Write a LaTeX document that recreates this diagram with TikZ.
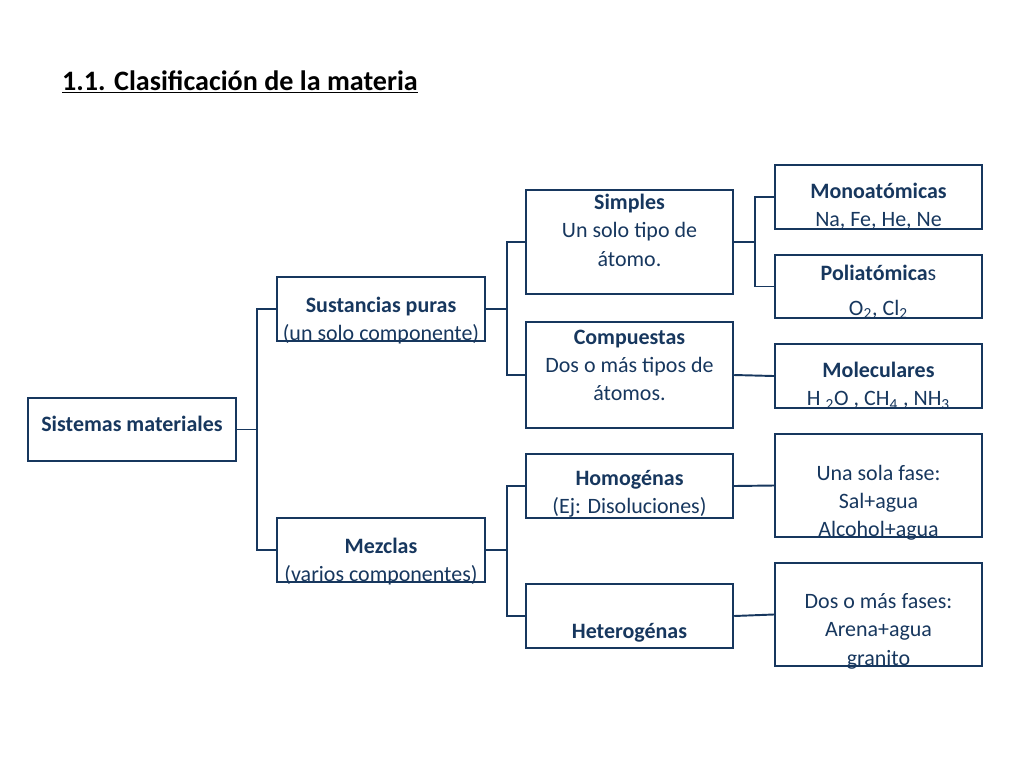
\documentclass[tikz,border=0pt]{standalone}
\usepackage{fontspec}
\setmainfont{Carlito}
\usetikzlibrary{positioning,fit}
\definecolor{navy}{HTML}{17375E}

\begin{document}
\begin{tikzpicture}[x=0.02cm, y=-0.02cm,
        box/.style = {rectangle, draw = navy, line width = 1.4pt, inner sep = 0pt},
        txt/.style = {anchor = north, align = center, text = navy, inner sep = 0pt,
                      font = \fontsize{12.5}{16}\selectfont},
        link/.style = {draw = navy, line width = 1.1pt}]
        \useasboundingbox (0,0) rectangle (1024,768);

        \node[anchor = base west, text = black, font = \fontsize{16}{18}\selectfont\bfseries] (title) at (56,90) {\underline{1.1. Clasificación de la materia}};

        % boxes
        \node[box, fit = {(28,398) (236,461)}] (sis) {};
        \node[box, fit = {(277,277) (485,341)}] (sus) {};
        \node[box, fit = {(277,518) (485,582)}] (mez) {};
        \node[box, fit = {(526,190) (733,294)}] (sim) {};
        \node[box, fit = {(526,322) (733,428)}] (com) {};
        \node[box, fit = {(526,454) (733,518)}] (hom) {};
        \node[box, fit = {(526,584) (733,648)}] (het) {};
        \node[box, fit = {(775,165) (982,229)}] (mono) {};
        \node[box, fit = {(775,255) (982,318)}] (poli) {};
        \node[box, fit = {(775,344) (982,408)}] (mol) {};
        \node[box, fit = {(775,434) (982,537)}] (una) {};
        \node[box, fit = {(775,563) (982,666)}] (dos) {};

        % texts
        \node[txt] (sisT) at ([yshift = -11] sis.north) {\textbf{Sistemas materiales}};
        \node[txt] (susT) at ([yshift = -12] sus.north) {\textbf{Sustancias puras}\\(un solo componente)};
        \node[txt] (mezT) at ([yshift = -12] mez.north) {\textbf{Mezclas}\\(varios componentes)};
        \node[txt] (simT) at ([yshift = -3] sim.north) {\textbf{Simples}\\Un solo tipo de\\átomo.};
        \node[txt] (comT) at ([yshift = -5] com.north) {\textbf{Compuestas}\\Dos o más tipos de\\átomos.};
        \node[txt] (homT) at ([yshift = -10] hom.north) {\textbf{Homogénas}\\(Ej: Disoluciones)};
        \node[txt] (hetT) at ([yshift = -23] het.north) {\textbf{Heterogénas}};
        \node[txt] (monoT) at ([yshift = -11] mono.north) {\textbf{Monoatómicas}\\Na, Fe, He, Ne};
        \node[txt] (poliT) at ([yshift = -6] poli.north) {\textbf{Poliatómica}s\\[4pt]O\textsubscript{2}, Cl\textsubscript{2}};
        \node[txt] (molT) at ([yshift = -11] mol.north) {\textbf{Moleculares}\\H \textsubscript{2}O , CH\textsubscript{4} , NH\textsubscript{3}};
        \node[txt] (unaT) at ([yshift = -18] una.north) {Una sola fase:\\Sal+agua\\Alcohol+agua};
        \node[txt] (dosT) at ([yshift = -18] dos.north) {Dos o más fases:\\Arena+agua\\granito};

        % brackets
        \draw[link] (sis.east) -- ++(20,0) |- (sus.west);
        \draw[link] (sis.east) -- ++(20,0) |- (mez.west);
        \draw[link] (sus.east) -- ++(21,0) |- (sim.west);
        \draw[link] (sus.east) -- ++(21,0) |- (com.west);
        \draw[link] (mez.east) -- ++(21,0) |- (hom.west);
        \draw[link] (mez.east) -- ++(21,0) |- (het.west);
        \draw[link] (sim.east) -- ++(21,0) |- (mono.west);
        \draw[link] (sim.east) -- ++(21,0) |- (poli.west);
        \draw[link] (com.east) -- (mol.west);
        \draw[link] (hom.east) -- (una.west);
        \draw[link] (het.east) -- (dos.west);
\end{tikzpicture}
\end{document}
